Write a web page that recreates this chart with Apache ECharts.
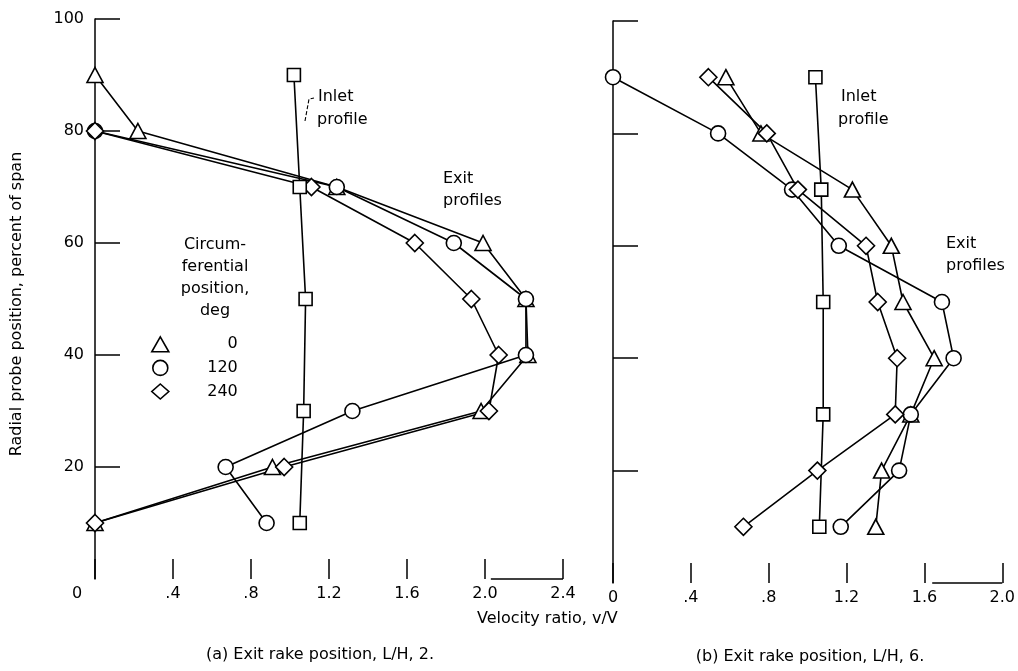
<!DOCTYPE html>
<html>
<head>
<meta charset="utf-8">
<script src="https://cdn.jsdelivr.net/npm/echarts@6/dist/echarts.min.js"></script>
<style>
  html, body { margin: 0; padding: 0; background: #fff; }
  #chart { width: 1018px; height: 671px; }
</style>
</head>
<body>
<div id="chart"></div>
<script>
// Radial probe positions (percent of span) for the exit rake
const spanPositions = [90, 80, 70, 60, 50, 40, 30, 20, 10];
// Radial positions sampled for the inlet profile
const inletPositions = [90, 70, 50, 30, 10];

// (a) Exit rake at L/H = 2 : velocity ratio v/V per circumferential position
const ratioA_deg0   = [0, 0.22, 1.24, 1.99, 2.21, 2.22, 1.98, 0.91, 0];
const ratioA_deg120 = [null, 0, 1.24, 1.84, 2.21, 2.21, 1.32, 0.67, 0.88];
const ratioA_deg240 = [null, 0, 1.11, 1.64, 1.93, 2.07, 2.02, 0.97, 0];
const ratioA_inlet  = [1.02, 1.05, 1.08, 1.07, 1.05];

// (b) Exit rake at L/H = 6
const ratioB_deg0   = [0.58, 0.76, 1.23, 1.43, 1.49, 1.65, 1.53, 1.38, 1.35];
const ratioB_deg120 = [0, 0.54, 0.92, 1.16, 1.69, 1.75, 1.53, 1.47, 1.17];
const ratioB_deg240 = [0.49, 0.79, 0.95, 1.30, 1.36, 1.46, 1.45, 1.05, 0.67];
const ratioB_inlet  = [1.04, 1.07, 1.08, 1.08, 1.06];

// Short baseline stubs at the right end of each velocity axis
const stubA = [[2.03, 0], [2.4, 0]];
const stubB = [[1.64, 0], [2.0, 0]];

const yTickValues = [20, 40, 60, 80, 100];
const circLabels = ['0', '120', '240'];

const FONT = 'DejaVu Sans';
const INK = '#000';

function pairs(xs, ys) {
  const out = [];
  xs.forEach((x, i) => { if (x !== null) out.push([x, ys[i]]); });
  return out;
}

function ratioLabel(v) {
  if (v === 0) return '0';
  const s = v.toFixed(1);
  return v < 1 ? s.slice(1) : s;
}

const markerStyle = { color: '#fff', borderColor: INK, borderWidth: 1.6, opacity: 1 };

function panelSeries(idx, d0, d120, d240, inlet, stub) {
  const sets = [
    { name: circLabels[0], data: pairs(d0, spanPositions), symbol: 'triangle', size: [16, 15] },
    { name: circLabels[1], data: pairs(d120, spanPositions), symbol: 'circle', size: 15 },
    { name: circLabels[2], data: pairs(d240, spanPositions), symbol: 'diamond', size: [17, 17] },
    { name: 'Inlet', data: pairs(inlet, inletPositions), symbol: 'rect', size: 13 }
  ];
  const out = [];
  sets.forEach(s => {
    out.push({
      type: 'line', name: 'trace ' + s.name, xAxisIndex: idx, yAxisIndex: idx,
      data: s.data, symbol: 'none', z: 2, silent: true,
      lineStyle: { color: INK, width: 1.6 }
    });
  });
  sets.forEach(s => {
    out.push({
      type: 'scatter', name: s.name, xAxisIndex: idx, yAxisIndex: idx,
      data: s.data, symbol: s.symbol, symbolSize: s.size, z: 4, silent: true,
      itemStyle: markerStyle
    });
  });
  out.push({
    type: 'line', name: 'baseline', xAxisIndex: idx, yAxisIndex: idx,
    data: stub, symbol: 'none', z: 1, silent: true, clip: false,
    lineStyle: { color: INK, width: 1.3 }
  });
  return out;
}

function xAxisFor(idx, max, shiftZero) {
  return {
    type: 'value', gridIndex: idx, min: 0, max: max, interval: 0.4,
    axisLine: { show: false },
    axisTick: { show: true, inside: true, length: 20, lineStyle: { color: INK, width: 1.5 } },
    splitLine: { show: false },
    axisLabel: {
      margin: 7, color: INK, fontFamily: FONT, fontSize: 16,
      formatter: v => (shiftZero && v === 0) ? '{z|0}' : ratioLabel(v),
      rich: { z: { padding: [0, 36, 0, 0], fontFamily: FONT, fontSize: 16, color: INK } }
    }
  };
}

function yAxisFor(idx, showLabels) {
  return {
    type: 'value', gridIndex: idx, min: 0, max: 100, interval: 20,
    axisLine: { show: true, onZero: false, lineStyle: { color: INK, width: 1.5 } },
    axisTick: { show: true, inside: true, length: 25, customValues: yTickValues, lineStyle: { color: INK, width: 1.5 } },
    splitLine: { show: false },
    axisLabel: {
      show: showLabels, customValues: yTickValues, margin: 11,
      color: INK, fontFamily: FONT, fontSize: 16
    }
  };
}

const textStyle = (extra) => Object.assign({ font: '16px "' + FONT + '"', fill: INK }, extra);

const chart = echarts.init(document.getElementById('chart'), null, { renderer: 'canvas' });
chart.setOption({
  backgroundColor: '#fff',
  animation: false,
  grid: [
    { left: 95, width: 468, top: 19, height: 560 },
    { left: 613, width: 390, top: 21, height: 562 }
  ],
  xAxis: [xAxisFor(0, 2.4, true), xAxisFor(1, 2.0, false)],
  yAxis: [yAxisFor(0, true), yAxisFor(1, false)],
  legend: {
    data: [
      { name: circLabels[0], icon: 'triangle' },
      { name: circLabels[1], icon: 'circle' },
      { name: circLabels[2], icon: 'diamond' }
    ],
    orient: 'vertical', left: 146, top: 331,
    itemWidth: 17, itemHeight: 15, itemGap: 7,
    selectedMode: false,
    itemStyle: { color: '#fff', borderColor: INK, borderWidth: 1.6, opacity: 1 },
    formatter: '{v|{name}}',
    textStyle: {
      color: INK, fontFamily: FONT, fontSize: 16,
      rich: { v: { width: 64, align: 'right', fontFamily: FONT, fontSize: 16, color: INK } }
    }
  },
  series: [
    ...panelSeries(0, ratioA_deg0, ratioA_deg120, ratioA_deg240, ratioA_inlet, stubA),
    ...panelSeries(1, ratioB_deg0, ratioB_deg120, ratioB_deg240, ratioB_inlet, stubB)
  ],
  graphic: [
    { type: 'text', rotation: Math.PI / 2, x: 17, y: 304,
      style: textStyle({ text: 'Radial probe position, percent of span', textAlign: 'center', textVerticalAlign: 'middle' }) },
    { type: 'text', x: 477, y: 619,
      style: textStyle({ text: 'Velocity ratio, v/V', textAlign: 'left', textVerticalAlign: 'middle' }) },
    { type: 'text', x: 320, y: 655,
      style: textStyle({ text: '(a) Exit rake position, L/H, 2.', textAlign: 'center', textVerticalAlign: 'middle' }) },
    { type: 'text', x: 810, y: 657,
      style: textStyle({ text: '(b) Exit rake position, L/H, 6.', textAlign: 'center', textVerticalAlign: 'middle' }) },
    // panel (a) annotations
    { type: 'text', x: 318, y: 97, style: textStyle({ text: 'Inlet', textVerticalAlign: 'middle' }) },
    { type: 'text', x: 317, y: 120, style: textStyle({ text: 'profile', textVerticalAlign: 'middle' }) },
    { type: 'polyline', shape: { points: [[305, 121], [309, 99], [314, 98]] },
      style: { stroke: INK, lineWidth: 1.1, lineDash: [4, 2], fill: null } },
    { type: 'text', x: 443, y: 179, style: textStyle({ text: 'Exit', textVerticalAlign: 'middle' }) },
    { type: 'text', x: 443, y: 201, style: textStyle({ text: 'profiles', textVerticalAlign: 'middle' }) },
    { type: 'text', x: 215, y: 245,
      style: textStyle({ text: 'Circum-\nferential\nposition,\ndeg', textAlign: 'center', textVerticalAlign: 'top', lineHeight: 22, y: -11 }) },
    // panel (b) annotations
    { type: 'text', x: 841, y: 97, style: textStyle({ text: 'Inlet', textVerticalAlign: 'middle' }) },
    { type: 'text', x: 838, y: 120, style: textStyle({ text: 'profile', textVerticalAlign: 'middle' }) },
    { type: 'text', x: 946, y: 244, style: textStyle({ text: 'Exit', textVerticalAlign: 'middle' }) },
    { type: 'text', x: 946, y: 266, style: textStyle({ text: 'profiles', textVerticalAlign: 'middle' }) }
  ]
});
</script>
</body>
</html>
